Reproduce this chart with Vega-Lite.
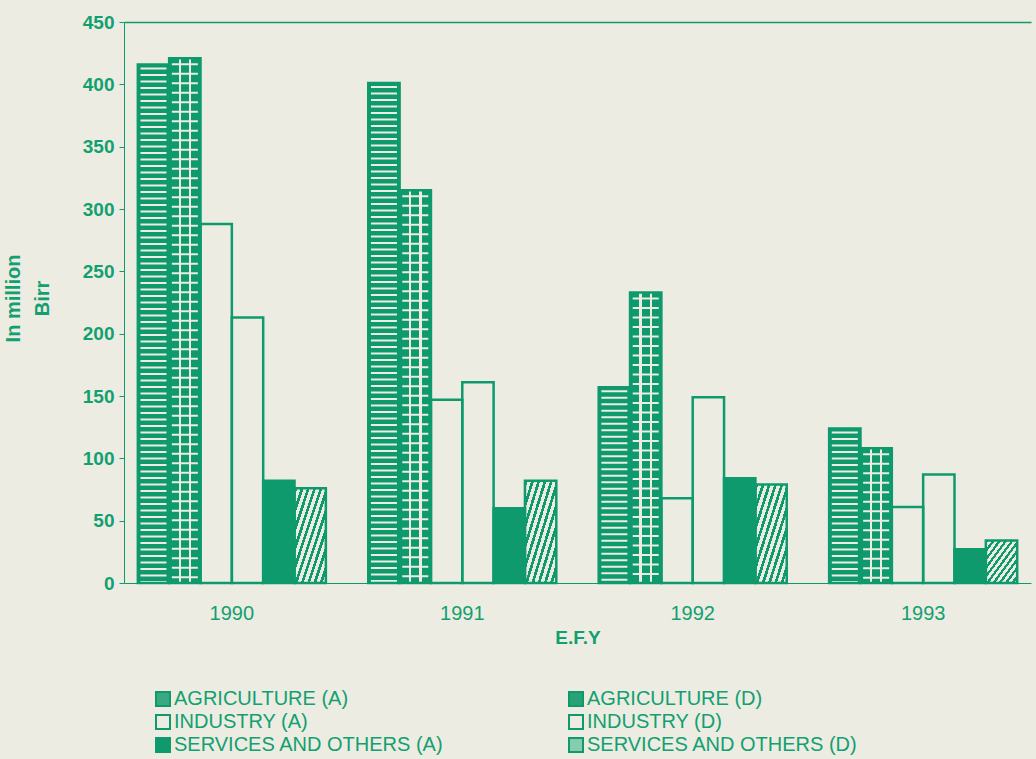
{
  "$schema": "https://vega.github.io/schema/vega-lite/v6.json",
  "width": 907,
  "height": 561,
  "autosize": "none",
  "padding": {"left": 124, "top": 22, "right": 5, "bottom": 176},
  "background": "#edece3",
  "config": {"view": {"stroke": null}, "font": "Liberation Sans"},
  "data": {
    "values": [
      {"year": "1990", "series": "AGRICULTURE (A)", "value": 416},
      {"year": "1990", "series": "AGRICULTURE (D)", "value": 421},
      {"year": "1990", "series": "INDUSTRY (A)", "value": 288},
      {"year": "1990", "series": "INDUSTRY (D)", "value": 213},
      {"year": "1990", "series": "SERVICES AND OTHERS (A)", "value": 82},
      {"year": "1990", "series": "SERVICES AND OTHERS (D)", "value": 76},
      {"year": "1991", "series": "AGRICULTURE (A)", "value": 401},
      {"year": "1991", "series": "AGRICULTURE (D)", "value": 315},
      {"year": "1991", "series": "INDUSTRY (A)", "value": 147},
      {"year": "1991", "series": "INDUSTRY (D)", "value": 161},
      {"year": "1991", "series": "SERVICES AND OTHERS (A)", "value": 60},
      {"year": "1991", "series": "SERVICES AND OTHERS (D)", "value": 82},
      {"year": "1992", "series": "AGRICULTURE (A)", "value": 157},
      {"year": "1992", "series": "AGRICULTURE (D)", "value": 233},
      {"year": "1992", "series": "INDUSTRY (A)", "value": 68},
      {"year": "1992", "series": "INDUSTRY (D)", "value": 149},
      {"year": "1992", "series": "SERVICES AND OTHERS (A)", "value": 84},
      {"year": "1992", "series": "SERVICES AND OTHERS (D)", "value": 79},
      {"year": "1993", "series": "AGRICULTURE (A)", "value": 124},
      {"year": "1993", "series": "AGRICULTURE (D)", "value": 108},
      {"year": "1993", "series": "INDUSTRY (A)", "value": 61},
      {"year": "1993", "series": "INDUSTRY (D)", "value": 87},
      {"year": "1993", "series": "SERVICES AND OTHERS (A)", "value": 27},
      {"year": "1993", "series": "SERVICES AND OTHERS (D)", "value": 34}
    ]
  },
  "encoding": {
    "x": {
      "field": "year",
      "type": "nominal",
      "title": "E.F.Y",
      "scale": {"paddingInner": 0.184, "paddingOuter": 0.06},
      "axis": {
        "labelAngle": 0,
        "labelFont": "Liberation Sans",
        "labelFontSize": 20,
        "labelColor": "#12a070",
        "labelPadding": 20,
        "ticks": false,
        "domainColor": "#0e9a6c",
        "domainWidth": 1.2,
        "titleFont": "Liberation Sans",
        "titleFontSize": 19,
        "titleFontWeight": "bold",
        "titleColor": "#12a070",
        "titleBaseline": "top",
        "titleY": 45
      }
    },
    "xOffset": {
      "field": "series",
      "type": "nominal",
      "scale": {
        "domain": ["AGRICULTURE (A)", "AGRICULTURE (D)", "INDUSTRY (A)", "INDUSTRY (D)", "SERVICES AND OTHERS (A)", "SERVICES AND OTHERS (D)"],
        "paddingInner": 0,
        "paddingOuter": 0
      }
    },
    "y": {
      "field": "value",
      "type": "quantitative",
      "title": ["In million", "Birr"],
      "scale": {"domain": [0, 450], "nice": false},
      "axis": {
        "values": [0, 50, 100, 150, 200, 250, 300, 350, 400, 450],
        "labelFont": "Liberation Sans",
        "labelFontSize": 19,
        "labelFontWeight": "bold",
        "labelColor": "#12a070",
        "labelPadding": 5,
        "tickSize": 5,
        "tickColor": "#0e9a6c",
        "domainColor": "#0e9a6c",
        "domainWidth": 1,
        "grid": true,
        "gridColor": "#0e9a6c",
        "gridWidth": 1.5,
        "gridOpacity": {"condition": {"test": "datum.value === 450", "value": 1}, "value": 0},
        "titleFont": "Liberation Sans",
        "titleFontSize": 20,
        "titleFontWeight": "bold",
        "titleColor": "#12a070",
        "titleLineHeight": 29,
        "titleAngle": -90,
        "titleAlign": "center",
        "titleBaseline": "middle",
        "titleX": -111,
        "titleY": 276
      }
    }
  },
  "layer": [
    {
      "mark": {"type": "bar", "strokeWidth": 0},
      "encoding": {
        "fill": {
          "field": "series",
          "type": "nominal",
          "scale": {
            "domain": ["AGRICULTURE (A)", "INDUSTRY (A)", "SERVICES AND OTHERS (A)", "AGRICULTURE (D)", "INDUSTRY (D)", "SERVICES AND OTHERS (D)"],
            "range": ["#3aa981", "#edece3", "#0e9a6c", "#2aa278", "#edece3", "#86cdb0"]
          },
          "condition": [
            {"test": "datum.series === 'AGRICULTURE (A)'", "value": "#0e9a6c"},
            {
              "test": "datum.series === 'AGRICULTURE (D)'",
              "value": {
                "gradient": "linear", "x1": 0, "y1": 0, "x2": 1, "y2": 0,
                "stops": [
                  {"offset": 0, "color": "#0e9a6c"}, {"offset": 0.3, "color": "#0e9a6c"},
                  {"offset": 0.3, "color": "#edece3"}, {"offset": 0.37, "color": "#edece3"},
                  {"offset": 0.37, "color": "#0e9a6c"}, {"offset": 0.63, "color": "#0e9a6c"},
                  {"offset": 0.63, "color": "#edece3"}, {"offset": 0.7, "color": "#edece3"},
                  {"offset": 0.7, "color": "#0e9a6c"}, {"offset": 1, "color": "#0e9a6c"}
                ]
              }
            },
            {
              "test": "datum.series === 'SERVICES AND OTHERS (D)'",
              "value": {
                "gradient": "linear", "x1": 0, "y1": 0, "x2": 1, "y2": 1,
                "stops": [
                  {"offset": 0, "color": "#0e9a6c"}, {"offset": 0.045, "color": "#0e9a6c"}, {"offset": 0.045, "color": "#edece3"}, {"offset": 0.1, "color": "#edece3"},
                  {"offset": 0.1, "color": "#0e9a6c"}, {"offset": 0.145, "color": "#0e9a6c"}, {"offset": 0.145, "color": "#edece3"}, {"offset": 0.2, "color": "#edece3"},
                  {"offset": 0.2, "color": "#0e9a6c"}, {"offset": 0.245, "color": "#0e9a6c"}, {"offset": 0.245, "color": "#edece3"}, {"offset": 0.3, "color": "#edece3"},
                  {"offset": 0.3, "color": "#0e9a6c"}, {"offset": 0.345, "color": "#0e9a6c"}, {"offset": 0.345, "color": "#edece3"}, {"offset": 0.4, "color": "#edece3"},
                  {"offset": 0.4, "color": "#0e9a6c"}, {"offset": 0.445, "color": "#0e9a6c"}, {"offset": 0.445, "color": "#edece3"}, {"offset": 0.5, "color": "#edece3"},
                  {"offset": 0.5, "color": "#0e9a6c"}, {"offset": 0.545, "color": "#0e9a6c"}, {"offset": 0.545, "color": "#edece3"}, {"offset": 0.6, "color": "#edece3"},
                  {"offset": 0.6, "color": "#0e9a6c"}, {"offset": 0.645, "color": "#0e9a6c"}, {"offset": 0.645, "color": "#edece3"}, {"offset": 0.7, "color": "#edece3"},
                  {"offset": 0.7, "color": "#0e9a6c"}, {"offset": 0.745, "color": "#0e9a6c"}, {"offset": 0.745, "color": "#edece3"}, {"offset": 0.8, "color": "#edece3"},
                  {"offset": 0.8, "color": "#0e9a6c"}, {"offset": 0.845, "color": "#0e9a6c"}, {"offset": 0.845, "color": "#edece3"}, {"offset": 0.9, "color": "#edece3"},
                  {"offset": 0.9, "color": "#0e9a6c"}, {"offset": 0.945, "color": "#0e9a6c"}, {"offset": 0.945, "color": "#edece3"}, {"offset": 1, "color": "#edece3"}
                ]
              }
            }
          ],
          "legend": {
            "orient": "none",
            "legendX": 29,
            "legendY": 667,
            "columns": 2,
            "columnPadding": 121,
            "rowPadding": 1,
            "padding": 0,
            "title": null,
            "symbolType": "square",
            "symbolSize": 196,
            "symbolStrokeColor": "#0e9a6c",
            "symbolStrokeWidth": 2,
            "labelFont": "Liberation Sans",
            "labelFontSize": 20,
            "labelColor": "#12a070",
            "labelOffset": 1,
            "labelLimit": 400
          }
        }
      }
    },
    {
      "transform": [{"filter": "datum.series === 'AGRICULTURE (A)'"}],
      "mark": {"type": "rule", "stroke": "#edece3", "strokeWidth": 26, "strokeDash": [2, 4.5], "strokeDashOffset": -3},
      "encoding": {"y2": {"datum": 0}}
    },
    {
      "transform": [{"filter": "datum.series === 'AGRICULTURE (D)'"}],
      "mark": {"type": "rule", "stroke": "#edece3", "strokeWidth": 26, "strokeDash": [2, 7.5], "strokeDashOffset": -5},
      "encoding": {"y2": {"datum": 0}}
    },
    {
      "mark": {"type": "bar", "fill": "transparent", "stroke": "#0e9a6c", "strokeWidth": 2.5}
    }
  ]
}
